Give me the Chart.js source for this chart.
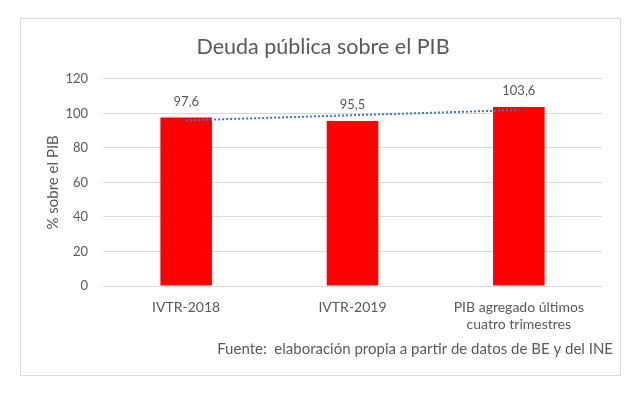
<!DOCTYPE html>
<html>
<head>
<meta charset="utf-8">
<script src="https://cdn.jsdelivr.net/npm/chart.js@4/dist/chart.umd.min.js"></script>
<style>
  html, body { margin: 0; padding: 0; background: #fff; }
  #wrap { position: relative; width: 638px; height: 398px; }
  #frame { position: absolute; left: 20px; top: 18px; width: 601px; height: 358px; border: 1px solid #d9d9d9; box-sizing: border-box; }
  canvas { position: absolute; left: 0; top: 0; }
</style>
</head>
<body>
<div id="wrap">
  <div id="frame"></div>
  <canvas id="debtChart" width="638" height="398"></canvas>
</div>
<script>
// datos
var categories = ['IVTR-2018', 'IVTR-2019', ['PIB agregado últimos', 'cuatro trimestres']];
var debtValues = [97.6, 95.5, 103.6];
var trendValues = [95.9, 98.9, 101.9]; // linea de tendencia (lineal)
var yTicks = [0, 20, 40, 60, 80, 100, 120];

var textColor = '#595959';
var fontFamily = 'Lato, "Open Sans", sans-serif';

// etiquetas de datos encima de las barras
var barLabels = {
    id: 'barLabels',
    afterDatasetsDraw: function(chart) {
        var ctx = chart.ctx;
        var meta = chart.getDatasetMeta(0);
        ctx.save();
        ctx.font = '13px ' + fontFamily;
        ctx.fillStyle = textColor;
        ctx.textAlign = 'center';
        ctx.textBaseline = 'middle';
        meta.data.forEach(function(bar, i) {
            var txt = debtValues[i].toFixed(1).replace('.', ',');
            ctx.fillText(txt, bar.x, bar.y - 16);
        });
        ctx.restore();
    }
};

// nota de fuente abajo a la derecha
var sourceNote = {
    id: 'sourceNote',
    afterDraw: function(chart) {
        var ctx = chart.ctx;
        ctx.save();
        ctx.font = '15px ' + fontFamily;
        ctx.fillStyle = textColor;
        ctx.textAlign = 'right';
        ctx.textBaseline = 'middle';
        ctx.fillText('Fuente:  elaboración propia a partir de datos de BE y del INE', 613, 349);
        ctx.restore();
    }
};

var ctx = document.getElementById('debtChart').getContext('2d');
var chart = new Chart(ctx, {
    type: 'bar',
    data: {
        labels: categories,
        datasets: [{
            type: 'bar',
            label: 'Deuda',
            data: debtValues,
            backgroundColor: '#ff0000',
            barPercentage: 0.31,
            categoryPercentage: 1,
            order: 1
        }, {
            type: 'line',
            label: 'Tendencia',
            data: trendValues,
            borderColor: '#4472c4',
            borderWidth: 2,
            borderDash: [2, 2],
            pointRadius: 0,
            fill: false,
            order: 0
        }]
    },
    options: {
        responsive: false,
        animation: false,
        layout: { padding: { left: 44, right: 36, top: 0, bottom: 67 } },
        plugins: {
            legend: { display: false },
            tooltip: { enabled: false },
            title: {
                display: true,
                text: 'Deuda pública sobre el PIB',
                color: textColor,
                font: { family: fontFamily, size: 21.5, weight: 'normal' },
                padding: { top: 34, bottom: 19 }
            }
        },
        scales: {
            x: {
                grid: { display: false },
                border: { display: false },
                ticks: {
                    color: textColor,
                    font: { family: fontFamily, size: 14 },
                    padding: 5,
                    maxRotation: 0
                },
                afterFit: function(scale) { scale.height = 45; }
            },
            y: {
                min: 0,
                max: 120,
                afterBuildTicks: function(scale) {
                    scale.ticks = yTicks.map(function(v) { return { value: v }; });
                },
                grid: { color: '#d9d9d9', drawTicks: false },
                border: { display: false },
                ticks: {
                    color: textColor,
                    font: { family: fontFamily, size: 13 },
                    padding: 15
                },
                title: {
                    display: true,
                    text: '% sobre el PIB',
                    color: textColor,
                    font: { family: fontFamily, size: 15 },
                    padding: 0
                },
                afterFit: function(scale) { scale.width = 59; }
            }
        }
    },
    plugins: [barLabels, sourceNote]
});
</script>
</body>
</html>
